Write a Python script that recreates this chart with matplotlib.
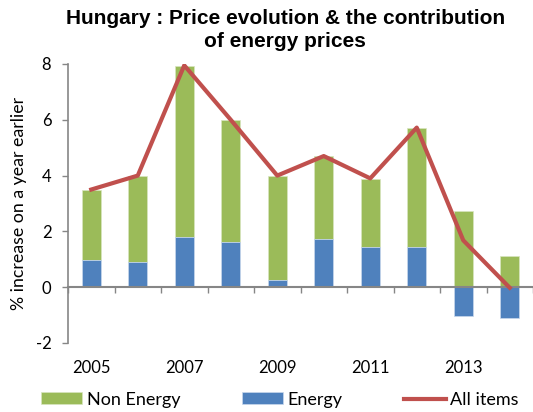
import matplotlib.pyplot as plt
import numpy as np

# ---------- DATA ----------
years = ["2005", "2006", "2007", "2008", "2009", "2010", "2011", "2012", "2013", "2014"]
energy = [0.98, 0.90, 1.80, 1.62, 0.27, 1.71, 1.43, 1.43, -1.04, -1.11]
non_energy = [2.52, 3.10, 6.13, 4.39, 3.73, 2.98, 2.46, 4.27, 2.73, 1.10]
all_items = [3.50, 4.00, 7.95, 6.00, 4.00, 4.70, 3.90, 5.72, 1.68, -0.02]

GREEN = "#9BBB59"
BLUE = "#4F81BD"
RED = "#C0504D"
GREY = "#868686"

plt.rcParams["font.family"] = ["Lato", "DejaVu Sans"]
plt.rcParams["axes.unicode_minus"] = False

fig = plt.figure(figsize=(5.33, 4.12), dpi=100)
ax = fig.add_axes([0.1276, 0.1675, 0.8724, 0.6772])

x = np.arange(len(years))
energy = np.array(energy)
non_energy = np.array(non_energy)
# green stacks on energy when positive, else starts from zero
green_bottom = np.where(energy > 0, energy, 0)

b_non = ax.bar(x, non_energy, bottom=green_bottom, width=0.4, color=GREEN,
               edgecolor="#d8e6c0", linewidth=0.5, label="Non Energy", zorder=2)
b_en = ax.bar(x, energy, width=0.4, color=BLUE,
              edgecolor="#c9d8ec", linewidth=0.5, label="Energy", zorder=2)
ln, = ax.plot(x, all_items, color=RED, linewidth=3.0, label="All items", zorder=4)

ax.set_xlim(-0.5, len(years) - 0.5)
ax.set_ylim(-2, 8)
ax.set_yticks([-2, 0, 2, 4, 6, 8])
ax.tick_params(axis="y", labelsize=12, length=4, width=1, color=GREY, pad=8)

for s in ["top", "right"]:
    ax.spines[s].set_visible(False)
ax.spines["left"].set_color(GREY)
ax.spines["bottom"].set_color(GREY)
ax.spines["left"].set_linewidth(1.2)
ax.spines["bottom"].set_linewidth(1.5)
ax.spines["bottom"].set_position(("data", 0))
ax.spines["bottom"].set_zorder(3)

ax.set_xticks(np.arange(-0.5, len(years), 1))
ax.set_xticklabels([])
ax.tick_params(axis="x", length=4.5, width=1, color=GREY)

for i in range(0, len(years), 2):
    ax.text(x[i], -0.09, years[i], transform=ax.get_xaxis_transform(),
            ha="center", va="center", fontsize=12)

ax.set_ylabel("% increase on a year earlier", fontsize=12.8, labelpad=6)

fig.text(0.535, 0.977, "Hungary : Price evolution & the contribution\nof energy prices",
         ha="center", va="top", fontsize=15, fontweight="bold",
         family="Liberation Sans", linespacing=1.25)

fig.legend(handles=[b_non, b_en, ln], loc="center", bbox_to_anchor=(0.525, 0.03),
           ncol=3, frameon=False, fontsize=13, handlelength=2.3, handleheight=0.62,
           handletextpad=0.25, columnspacing=3.4)

fig.savefig("out.png", dpi=100)
